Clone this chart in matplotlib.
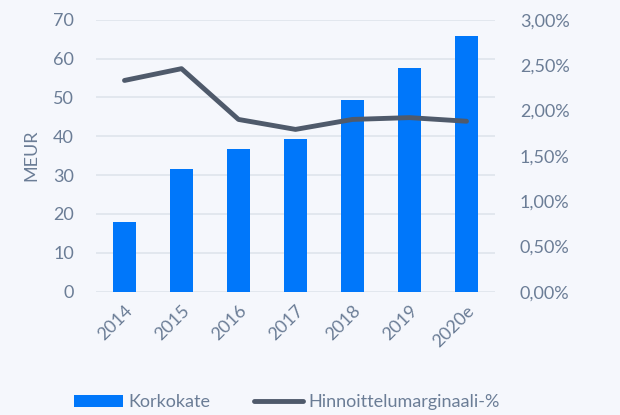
import numpy as np
import matplotlib
matplotlib.use("Agg")
from matplotlib import pyplot as plt
from matplotlib.ticker import FuncFormatter

YEARS = ["2014", "2015", "2016", "2017", "2018", "2019", "2020e"]
KORKOKATE = [17.9, 31.7, 36.6, 39.3, 49.3, 57.6, 65.7]
MARGINAALI = [2.33, 2.46, 1.90, 1.79, 1.90, 1.92, 1.88]

BG = "#f5f7fc"
TXT = "#6b7d96"
BLUE = "#0077fa"
GRAY = "#4f5a6b"

plt.rcParams['font.family'] = ['Lato', 'DejaVu Sans']

fig = plt.figure(figsize=(6.2, 4.15), dpi=100, facecolor=BG)
ax = fig.add_axes([96/620, 1 - 291.7/415, 399/620, 272/415], facecolor=BG)
x = np.arange(len(YEARS))

ax.bar(x, KORKOKATE, width=0.40, color=BLUE, label="Korkokate", zorder=2)
ax.set_ylim(0, 70)
ax.set_xlim(-0.5, len(YEARS) - 0.5)
ax.set_yticks(range(0, 71, 10))
ax.grid(axis="y", color="#dfe4ec", linewidth=1.2, zorder=0)
ax.set_axisbelow(True)
ax.set_xticks(x)
ax.set_xticklabels(YEARS, rotation=45, ha="right", rotation_mode="anchor")
ax.set_ylabel("MEUR", color=TXT, fontsize=13, labelpad=10)
ax.tick_params(axis="both", length=0, colors=TXT, labelsize=13)
ax.tick_params(axis="y", pad=16)
ax.tick_params(axis="x", pad=8)
for s in ax.spines.values():
    s.set_visible(False)

ax2 = ax.twinx()
ax2.plot(x, MARGINAALI, color=GRAY, linewidth=3.5, solid_capstyle="round",
         label="Hinnoittelumarginaali-%", zorder=3)
ax2.set_ylim(0, 3.0)
ax2.set_yticks(np.arange(0, 3.01, 0.5))
ax2.yaxis.set_major_formatter(FuncFormatter(lambda v, p: f"{v:.2f}".replace(".", ",") + "%"))
ax2.tick_params(axis="y", length=0, colors=TXT, labelsize=13, pad=18)
for s in ax2.spines.values():
    s.set_visible(False)

h1, l1 = ax.get_legend_handles_labels()
h2, l2 = ax2.get_legend_handles_labels()
leg = fig.legend(h1 + h2, l1 + l2, loc="lower left", bbox_to_anchor=(58/620, -0.028),
                 ncol=2, frameon=False, fontsize=13, handlelength=2.7,
                 handleheight=0.7, handletextpad=0.3, columnspacing=2.4)
for t in leg.get_texts():
    t.set_color(TXT)

fig.savefig("out.png", dpi=100, facecolor=BG)
